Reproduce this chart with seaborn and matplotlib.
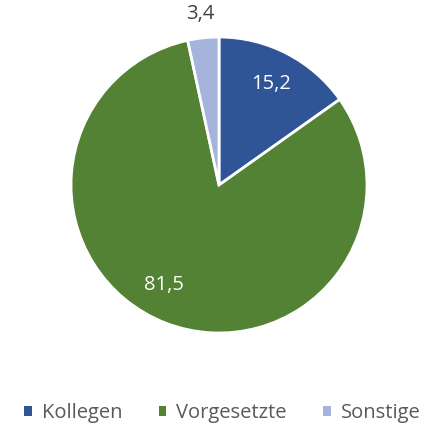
import matplotlib
matplotlib.use("Agg")
import matplotlib.pyplot as plt
from matplotlib.patches import Patch
import seaborn as sns
import numpy as np

sns.set_theme(style="white")
plt.rcParams['font.family'] = ['Open Sans', 'DejaVu Sans']

categories = ["Kollegen", "Vorgesetzte", "Sonstige"]
values = [15.2, 81.5, 3.4]
labels = ["15,2", "81,5", "3,4"]
colors = ["#2F5597", "#548235", "#A5B4DB"]

fig = plt.figure(figsize=(4.30, 4.29), dpi=100)
cx, cy, r = 219, 185, 148
ax = fig.add_axes([(cx - r) / 430, (429 - cy - r) / 429, 2 * r / 430, 2 * r / 429])
wedges, _ = ax.pie(values, colors=colors, startangle=90, counterclock=False,
                   wedgeprops=dict(edgecolor="white", linewidth=2))
ax.set_xlim(-1, 1)
ax.set_ylim(-1, 1)
ax.set_aspect("equal")

dists = [0.77, 0.78, 1.16]
nudges = [(0, 0), (-0.09, 0.05), (0, 0)]
txtcolors = ["white", "white", "#404040"]
total = sum(values)
cum = 0
for v, lab, d, c, (nx, ny) in zip(values, labels, dists, txtcolors, nudges):
    mid = (cum + v / 2) / total
    cum += v
    ang = np.pi / 2 - 2 * np.pi * mid
    ax.text(d * np.cos(ang) + nx, d * np.sin(ang) + ny, lab, ha="center", va="center",
            fontsize=14.5, color=c)

handles = [Patch(facecolor=c, edgecolor="none") for c in colors]
fig.legend(handles, categories, loc="center", bbox_to_anchor=(0.517, (429 - 413) / 429),
           ncol=3, frameon=False, fontsize=14.5, handlelength=0.38, handleheight=0.38,
           columnspacing=1.8, handletextpad=0.5, labelcolor="#595959")

fig.savefig("out.png", dpi=100)
